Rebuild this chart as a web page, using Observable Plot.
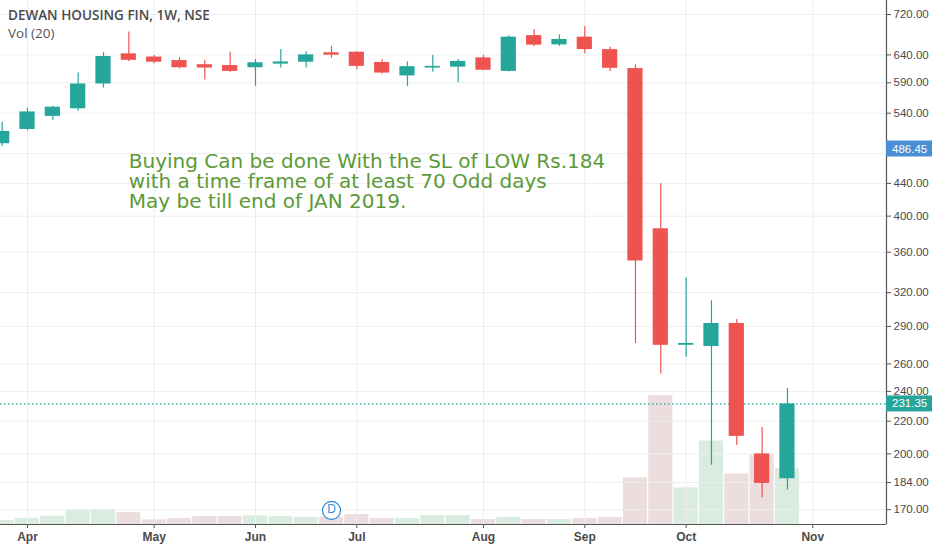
<!DOCTYPE html>
<html><head><meta charset="utf-8">
<script src="https://cdn.jsdelivr.net/npm/d3@7"></script>
<script src="https://cdn.jsdelivr.net/npm/@observablehq/plot@0.6"></script>
<style>
body{margin:0;background:#fff;}
#wrap{position:relative;width:932px;height:550px;overflow:hidden;background:#fff;}
#wrap svg{position:absolute;left:0;top:0;}
.title{position:absolute;left:8px;top:6px;font:600 13.5px "Open Sans";color:#4a4a4a;white-space:nowrap;}
.sub{position:absolute;left:8px;top:24px;font:400 13.5px "Open Sans";color:#555;white-space:nowrap;}
</style></head><body><div id="wrap"></div>
<script>
// ---- data (weekly, NSE: DHFL) ----
const weeks = ["2018-03-26","2018-04-02","2018-04-09","2018-04-16","2018-04-23","2018-04-30","2018-05-07","2018-05-14","2018-05-21","2018-05-28","2018-06-04","2018-06-11","2018-06-18","2018-06-25","2018-07-02","2018-07-09","2018-07-16","2018-07-23","2018-07-30","2018-08-06","2018-08-13","2018-08-20","2018-08-27","2018-09-03","2018-09-10","2018-09-17","2018-09-24","2018-10-01","2018-10-08","2018-10-15","2018-10-22","2018-10-29"];
const open  = [494,515,535,547,588,642,636,629.5,622,620.5,616.5,623,626.5,644,645,626,602,616,617.5,634.5,610,677,659,674,650,615,385.5,274.5,273.5,292.5,200,186];
const high  = [526,548,551,607,644,684,639,635,630,645,631.5,650,646,656,646,631,627,639,631.5,639,677,689,678.5,695,654.5,622,439.5,334,312.5,296,216,242];
const low   = [490,513,529,543,581,628,623.5,614.5,595,608.5,584,616,616,634,613,605.5,584,608.5,590,611,609,656,656,642,610,276,252.5,265,193.5,205,176,180];
const close = [512,542,549.5,588,637,630,626.5,616.5,616,610,625.5,627,640,639.5,619,607,618.5,619,628,612,674,658.5,669.5,650,615.5,351,274.5,276,292.5,210.5,183.5,231.35];
const volume = [2.4,3.6,5.0,8.6,8.8,7.2,2.8,3.6,4.8,4.8,5.2,4.8,4.2,4.4,6.0,3.6,3.6,5.4,5.4,3.0,4.2,3.0,3.0,3.6,4.2,28,77.4,22,50.2,30.4,42,33.4];
const priceTicks = [720,640,590,540,440,400,360,320,290,260,240,220,200,184,170];
const gridTicks = [720,640,590,540,480,440,400,360,320,290,260,240,220,200,184,170];
const monthNames = ["Jan","Feb","Mar","Apr","May","Jun","Jul","Aug","Sep","Oct","Nov","Dec"];
const dividendWeeks = ["2018-06-25"];
const noteLines = ["Buying Can be done With the SL of LOW Rs.184","with a time frame of at least 70 Odd days","May be till end of JAN 2019."];
const noteWeek = "2018-04-30";
const notePrice = 480;
const priceMarkers = [{value:486.45, color:"#4a8ed6"},{value:close[close.length-1], color:"#26a69a"}];

// ---- build ----
const UP="#26a69a", DOWN="#ef5350", VUP="#d9ecdf", VDOWN="#ecdede", GRID="#eceef2", AX="#555";
const bars = weeks.map((w,i)=>({i, o:open[i], h:high[i], l:low[i], c:close[i], v:volume[i], up:close[i]>=open[i]}));
const axisWeeks = weeks.map(w=>new Date(w));
axisWeeks.push(d3.utcMonday.offset(axisWeeks[axisWeeks.length-1],1));
const monthTicks = axisWeeks.map((d,i)=>i).filter(i=>i>0 && axisWeeks[i].getUTCMonth()!==axisWeeks[i-1].getUTCMonth());
const idxOf = w => weeks.indexOf(w);

const W=932,H=550,MR=46,MB=26;
const xDomain=[-0.066,34.91];
const yDomain=[162.8,750];
const common={width:W,height:H,marginLeft:0,marginRight:MR,marginTop:0,marginBottom:MB};

const volPlot = Plot.plot({...common,
  style:{background:"#fff"},
  x:{domain:xDomain, axis:null},
  y:{domain:[0,315], axis:null},
  marks:[
    Plot.rect(bars.filter(d=>d.up),{x1:d=>d.i-0.5,x2:d=>d.i+0.5,y1:0,y2:"v",fill:VUP,insetLeft:0.6,insetRight:0.6}),
    Plot.rect(bars.filter(d=>!d.up),{x1:d=>d.i-0.5,x2:d=>d.i+0.5,y1:0,y2:"v",fill:VDOWN,insetLeft:0.6,insetRight:0.6})
  ]
});

const pricePlot = Plot.plot({...common,
  style:{background:"transparent",fontFamily:"Liberation Sans, Arial, sans-serif"},
  x:{domain:xDomain, label:null},
  y:{type:"log",domain:yDomain, label:null},
  marks:[
    Plot.gridY(gridTicks,{stroke:GRID,strokeOpacity:1}),
    Plot.gridX(monthTicks,{stroke:GRID,strokeOpacity:1}),
    Plot.ruleY([close[close.length-1]],{stroke:UP,strokeDasharray:"1.5,2.5",strokeWidth:1.2}),
    Plot.ruleX(bars.filter(d=>d.up),{x:"i",y1:"l",y2:"h",stroke:UP,strokeWidth:1.2}),
    Plot.ruleX(bars.filter(d=>!d.up),{x:"i",y1:"l",y2:"h",stroke:DOWN,strokeWidth:1.2}),
    Plot.rect(bars.filter(d=>d.up),{x1:d=>d.i-0.3,x2:d=>d.i+0.3,y1:"o",y2:"c",fill:UP}),
    Plot.rect(bars.filter(d=>!d.up),{x1:d=>d.i-0.3,x2:d=>d.i+0.3,y1:"o",y2:"c",fill:DOWN}),
    Plot.ruleY([yDomain[0]],{stroke:AX,strokeWidth:1.2}),
    Plot.ruleX([xDomain[1]],{stroke:AX,strokeWidth:1.2}),
    Plot.axisY(priceTicks,{anchor:"right",label:null,tickSize:4,tickPadding:3,tickFormat:d=>d.toFixed(2),fontSize:11.5,color:"#4a4a4a",stroke:AX}),
    Plot.axisX(monthTicks,{anchor:"bottom",label:null,tickSize:4,tickPadding:4,tickFormat:i=>monthNames[axisWeeks[i].getUTCMonth()],fontSize:12,fontWeight:"bold",color:"#4a4a4a",stroke:AX}),
    Plot.text([noteLines.join("\n")],{x:idxOf(noteWeek),y:notePrice,text:d=>d,textAnchor:"start",lineAnchor:"top",lineHeight:1.0,fontSize:20,fontFamily:"DejaVu Sans",fill:"#5b9a37"}),
    Plot.dot(dividendWeeks,{x:d=>idxOf(d),frameAnchor:"bottom",dy:-14,r:9,fill:"#fff",stroke:"#2f8fe0",strokeWidth:1.3}),
    Plot.text(dividendWeeks,{x:d=>idxOf(d),frameAnchor:"bottom",dy:-12,text:()=>"D",fill:"#2f8fe0",fontSize:12,fontFamily:"Liberation Sans"})
  ]
});

// price label boxes on the right axis, positioned via the plot's own y scale
const ys = pricePlot.scale("y");
const svg = d3.select(pricePlot);
for (const m of priceMarkers) {
  const y = ys.apply(m.value);
  const g = svg.append("g");
  g.append("rect").attr("x",W-MR).attr("y",y-8).attr("width",MR).attr("height",16).attr("fill",m.color);
  g.append("text").attr("x",W-MR+6).attr("y",y).attr("dy","0.35em").attr("fill","#fff")
   .attr("text-anchor","start")
   .attr("font-size",11.5).attr("font-family","Liberation Sans, Arial, sans-serif").text(m.value.toFixed(2));
}

const wrap=document.getElementById("wrap");
wrap.appendChild(volPlot);
wrap.appendChild(pricePlot);
const t=document.createElement("div");t.className="title";t.textContent="DEWAN HOUSING FIN, 1W, NSE";wrap.appendChild(t);
const s=document.createElement("div");s.className="sub";s.textContent="Vol (20)";wrap.appendChild(s);
</script></body></html>
